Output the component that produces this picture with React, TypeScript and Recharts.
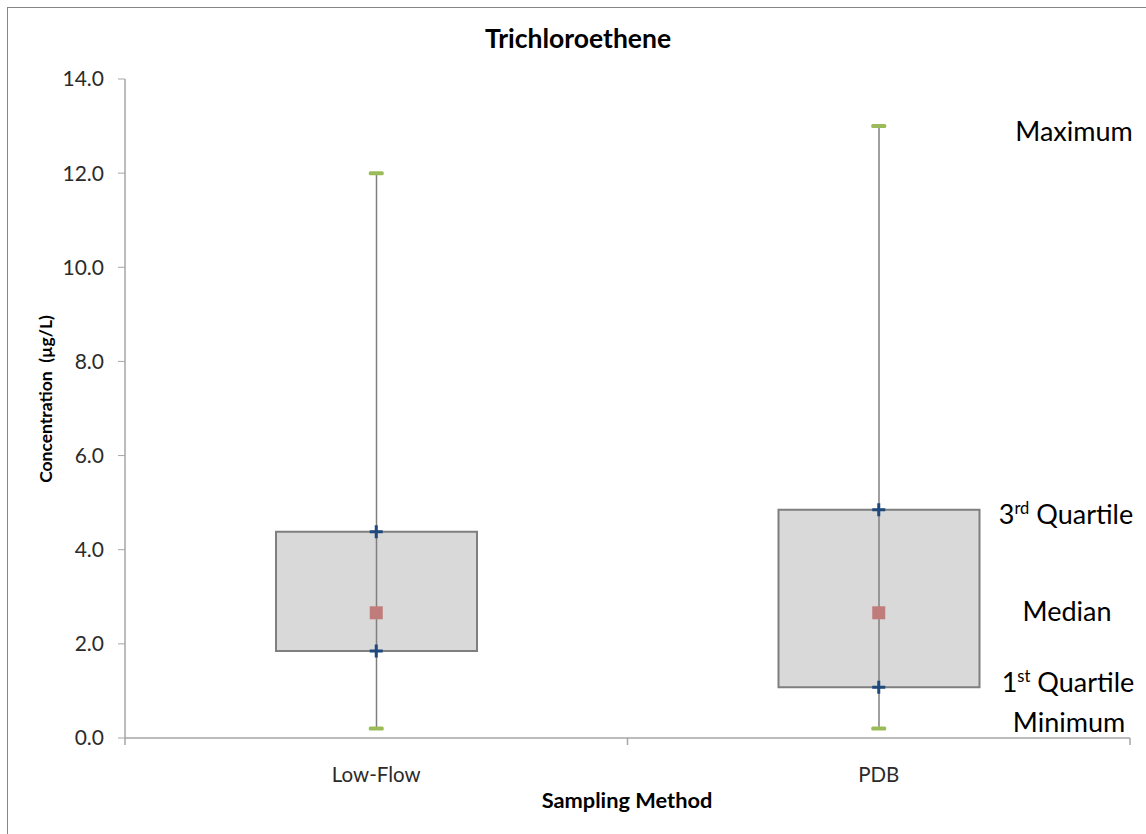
import React from "react";
import { ComposedChart, Bar, Line, XAxis, YAxis } from "recharts";

// Box plot summary per sampling method (µg/L)
const categories = ["Low-Flow", "PDB"];
const minimums = [0.2, 0.2];
const firstQuartiles = [1.85, 1.08];
const medians = [2.66, 2.66];
const thirdQuartiles = [4.38, 4.85];
const maximums = [12.0, 13.0];
const yTicks = [0, 2, 4, 6, 8, 10, 12, 14];

const FONT = "Lato, 'Open Sans', sans-serif";
const AXIS_GREY = "#A6A6A6";
const BOX_GREY = "#7F7F7F";
const TEXT_DARK = "#2B2B2B";

const rows = categories.map((name, i) => ({
  name,
  pos: i + 0.5,
  min: minimums[i],
  q1: firstQuartiles[i],
  median: medians[i],
  q3: thirdQuartiles[i],
  max: maximums[i],
  box: [firstQuartiles[i], thirdQuartiles[i]],
  whisker: [minimums[i], maximums[i]],
}));

// tick marks at category boundaries, labels at category centres
const xTicks: number[] = [];
for (let i = 0; i <= categories.length; i++) {
  xTicks.push(i);
  if (i < categories.length) xTicks.push(i + 0.5);
}

function CategoryTick(props: any) {
  const { x, y, payload } = props;
  const v = payload.value;
  if (Number.isInteger(v)) {
    return <line x1={x} y1={y} x2={x} y2={y + 7} stroke={AXIS_GREY} strokeWidth={1.5} />;
  }
  return (
    <text x={x} y={y + 44} textAnchor="middle" fontFamily={FONT} fontSize={20.5} fill={TEXT_DARK}>
      {categories[Math.floor(v)]}
    </text>
  );
}

function WhiskerShape(props: any) {
  const { x, y, width, height } = props;
  const cx = x + width / 2;
  const top = Math.min(y, y + height);
  return (
    <line x1={cx} y1={top} x2={cx} y2={top + Math.abs(height)} stroke={BOX_GREY} strokeWidth={1.5} />
  );
}

const capDot = (props: any) => (
  <rect key={props.index} x={props.cx - 7.5} y={props.cy - 2} width={15} height={4} rx={1.5} fill="#9BBB59" />
);

const quartileDot = (props: any) => (
  <path
    key={props.index}
    d={`M${props.cx - 6.5},${props.cy} H${props.cx + 6.5} M${props.cx},${props.cy - 6.5} V${props.cy + 6.5}`}
    stroke="#1F497D"
    strokeWidth={3}
  />
);

const medianDot = (props: any) => (
  <rect key={props.index} x={props.cx - 6.5} y={props.cy - 6.5} width={13} height={13} fill="#C07C7B" />
);

export default function App() {
  return (
    <div
      style={{
        position: "absolute",
        left: 0,
        top: 0,
        width: 1146,
        height: 834,
        overflow: "hidden",
        background: "#fff",
      }}
    >
      <div
        style={{
          position: "absolute",
          left: 7,
          top: 7,
          width: 1400,
          height: 1000,
          border: "1px solid #868686",
        }}
      />
      <div style={{ position: "absolute", left: 0, top: 0 }}>
        <ComposedChart width={1146} height={834} data={rows} margin={{ top: 79, right: 16, bottom: 0, left: 0 }}>
          <XAxis
            xAxisId="cat"
            type="number"
            dataKey="pos"
            domain={[0, categories.length]}
            ticks={xTicks}
            interval={0}
            tickSize={0}
            tickMargin={0}
            tickLine={false}
            axisLine={{ stroke: AXIS_GREY, strokeWidth: 1.5 }}
            height={96}
            tick={<CategoryTick />}
          />
          <XAxis xAxisId="whisk" type="number" dataKey="pos" domain={[0, categories.length]} hide />
          <YAxis
            type="number"
            domain={[0, 14]}
            ticks={yTicks}
            interval={0}
            width={125}
            tickSize={7}
            tickMargin={14}
            tickFormatter={(v: number) => v.toFixed(1)}
            tick={{ fill: TEXT_DARK, fontSize: 21, fontFamily: FONT }}
            axisLine={{ stroke: AXIS_GREY, strokeWidth: 1.5 }}
            tickLine={{ stroke: AXIS_GREY }}
          />

          {/* interquartile box */}
          <Bar
            xAxisId="cat"
            dataKey="box"
            barSize={201}
            fill="#D9D9D9"
            stroke={BOX_GREY}
            strokeWidth={2}
            isAnimationActive={false}
          />
          {/* min-max whisker */}
          <Bar xAxisId="whisk" dataKey="whisker" barSize={201} shape={WhiskerShape} isAnimationActive={false} />

          <Line xAxisId="cat" dataKey="max" stroke="none" dot={capDot} activeDot={false} isAnimationActive={false} />
          <Line xAxisId="cat" dataKey="min" stroke="none" dot={capDot} activeDot={false} isAnimationActive={false} />
          <Line xAxisId="cat" dataKey="q3" stroke="none" dot={quartileDot} activeDot={false} isAnimationActive={false} />
          <Line xAxisId="cat" dataKey="q1" stroke="none" dot={quartileDot} activeDot={false} isAnimationActive={false} />
          <Line xAxisId="cat" dataKey="median" stroke="none" dot={medianDot} activeDot={false} isAnimationActive={false} />
        </ComposedChart>
      </div>

      <svg
        width={1146}
        height={834}
        style={{ position: "absolute", left: 0, top: 0, pointerEvents: "none" }}
      >
        <text x={578} y={48} textAnchor="middle" fontFamily={FONT} fontWeight="bold" fontSize={26.5} fill="#000">
          Trichloroethene
        </text>
        <text x={627} y={808} textAnchor="middle" fontFamily={FONT} fontWeight="bold" fontSize={21.8} fill="#000">
          Sampling Method
        </text>
        <text
          x={52}
          y={399}
          transform="rotate(-90, 52, 399)"
          textAnchor="middle"
          fontFamily={FONT}
          fontWeight="bold"
          fontSize={17.5}
          fill="#000"
          style={{ whiteSpace: "pre" }}
        >
          Concentration  (µg/L)
        </text>

        {/* annotation labels beside the PDB box */}
        <g fontFamily={FONT} fontSize={27} fill="#000" textAnchor="middle">
          <text x={1074} y={141}>Maximum</text>
          <text x={1066} y={524}>
            3<tspan fontSize={16.5} dy={-10}>rd</tspan>
            <tspan dy={10}> Quartile</tspan>
          </text>
          <text x={1067} y={621}>Median</text>
          <text x={1068} y={692}>
            1<tspan fontSize={16.5} dy={-10}>st</tspan>
            <tspan dy={10}> Quartile</tspan>
          </text>
          <text x={1069} y={732}>Minimum</text>
        </g>
      </svg>
    </div>
  );
}
